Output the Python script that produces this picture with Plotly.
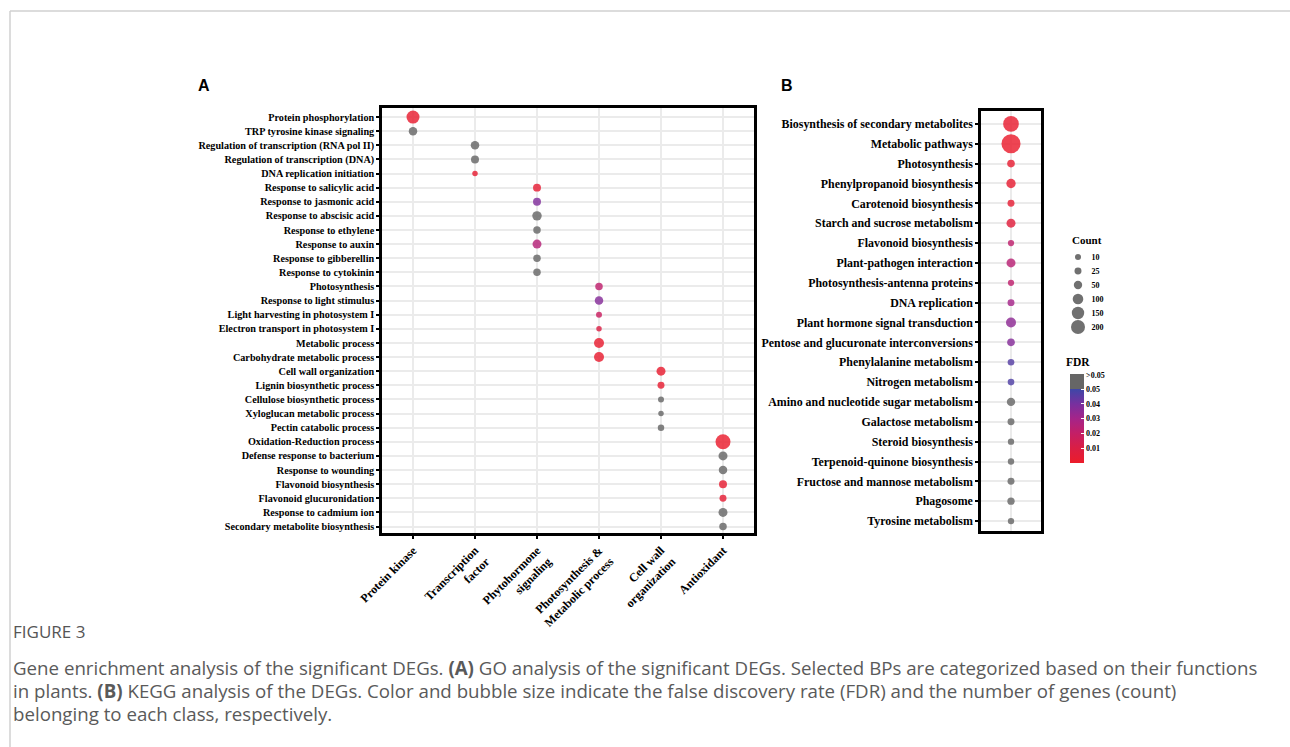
import math
import plotly.graph_objects as go

# ---------------- data ----------------
A_categories = ["Protein kinase", "Transcription<br>factor", "Phytohormone<br>signaling",
                "Photosynthesis &<br>Metabolic process", "Cell wall<br>organization", "Antioxidant"]

A_terms = [
    "Protein phosphorylation", "TRP tyrosine kinase signaling",
    "Regulation of transcription (RNA pol II)", "Regulation of transcription (DNA)", "DNA replication initiation",
    "Response to salicylic acid", "Response to jasmonic acid", "Response to abscisic acid",
    "Response to ethylene", "Response to auxin", "Response to gibberellin", "Response to cytokinin",
    "Photosynthesis", "Response to light stimulus", "Light harvesting in photosystem I",
    "Electron transport in photosystem I", "Metabolic process", "Carbohydrate metabolic process",
    "Cell wall organization", "Lignin biosynthetic process", "Cellulose biosynthetic process",
    "Xyloglucan metabolic process", "Pectin catabolic process",
    "Oxidation-Reduction process", "Defense response to bacterium", "Response to wounding",
    "Flavonoid biosynthesis", "Flavonoid glucuronidation", "Response to cadmium ion",
    "Secondary metabolite biosynthesis",
]
A_group_index = [0, 0, 1, 1, 1, 2, 2, 2, 2, 2, 2, 2, 3, 3, 3, 3, 3, 3, 4, 4, 4, 4, 4, 5, 5, 5, 5, 5, 5, 5]

NS = 0.06  # FDR > 0.05 (not significant, drawn grey)
A_count = [168, 53, 53, 43, 3, 43, 43, 74, 34, 63, 34, 34, 34, 53, 10, 3, 86, 86,
           63, 25, 10, 3, 17, 234, 63, 53, 43, 25, 63, 34]
A_fdr = [0.002, NS, NS, NS, 0.003, 0.004, 0.038, NS, NS, 0.025, NS, NS,
         0.022, 0.037, 0.018, 0.010, 0.002, 0.002, 0.002, 0.003, NS, NS, NS,
         0.001, NS, NS, 0.003, 0.004, NS, NS]

B_terms = [
    "Biosynthesis of secondary metabolites", "Metabolic pathways", "Photosynthesis",
    "Phenylpropanoid biosynthesis", "Carotenoid biosynthesis", "Starch and sucrose metabolism",
    "Flavonoid biosynthesis", "Plant-pathogen interaction", "Photosynthesis-antenna proteins",
    "DNA replication", "Plant hormone signal transduction", "Pentose and glucuronate interconversions",
    "Phenylalanine metabolism", "Nitrogen metabolism", "Amino and nucleotide sugar metabolism",
    "Galactose metabolism", "Steroid biosynthesis", "Terpenoid-quinone biosynthesis",
    "Fructose and mannose metabolism", "Phagosome", "Tyrosine metabolism",
]
B_count = [260, 400, 37, 70, 25, 63, 14, 63, 14, 25, 86, 37, 20, 20, 50, 25, 15, 15, 25, 30, 15]
B_fdr = [0.002, 0.001, 0.003, 0.003, 0.004, 0.006, 0.022, 0.024, 0.022, 0.030, 0.035, 0.037,
         0.046, 0.047, NS, NS, NS, NS, NS, NS, NS]

legend_counts = [10, 25, 50, 100, 150, 200]
fdr_ticks = [0.01, 0.02, 0.03, 0.04, 0.05]
fdr_tick_labels = ["0.01", "0.02", "0.03", "0.04", "0.05"]

caption_lines = [
    "Gene enrichment analysis of the significant DEGs. <b>(A)</b> GO analysis of the significant DEGs. "
    "Selected BPs are categorized based on their functions",
    "in plants. <b>(B)</b> KEGG analysis of the DEGs. Color and bubble size indicate the false discovery "
    "rate (FDR) and the number of genes (count)",
    "belonging to each class, respectively.",
]

# ---------------- styling helpers ----------------
W, H = 1290, 747
def px(x): return x / W
def py(y): return 1 - y / H

def dot_size(c):
    return math.sqrt(27.6 + 0.842 * c)

CMAX = 0.0602
cut = 0.05 / CMAX
colorscale = [
    [0.0, "#EC1C2A"],
    [0.01 / CMAX, "#DA1E44"],
    [0.02 / CMAX, "#C41F66"],
    [0.03 / CMAX, "#A52489"],
    [0.04 / CMAX, "#77309F"],
    [cut, "#3E47A7"],
    [cut, "#666666"],
    [1.0, "#666666"],
]

SERIF = "Liberation Serif"
GRID = "#EBEBEB"

fig = go.Figure()

fig.add_trace(go.Scatter(
    x=[A_categories[g] for g in A_group_index], y=A_terms, mode="markers",
    marker=dict(size=[dot_size(c) for c in A_count], color=A_fdr, coloraxis="coloraxis",
                opacity=0.82, line=dict(width=0)),
    xaxis="x", yaxis="y", showlegend=False, hoverinfo="x+y",
))

fig.add_trace(go.Scatter(
    x=["KEGG"] * len(B_terms), y=B_terms, mode="markers",
    marker=dict(size=[dot_size(c) for c in B_count], color=B_fdr, coloraxis="coloraxis",
                opacity=0.82, line=dict(width=0)),
    xaxis="x2", yaxis="y2", showlegend=False, hoverinfo="y",
))

# size legend
fig.add_trace(go.Scatter(
    x=[0.5] * len(legend_counts), y=[str(c) for c in legend_counts], mode="markers",
    marker=dict(size=[dot_size(c) for c in legend_counts], color="#333333", line=dict(width=0)),
    xaxis="x3", yaxis="y3", showlegend=False, hoverinfo="skip",
))

axis_common = dict(showgrid=True, gridcolor=GRID, gridwidth=2, zeroline=False,
                   showline=True, mirror=True, linecolor="black", linewidth=2.5,
                   ticks="outside", ticklen=3, tickwidth=1.5, tickcolor="black",
                   automargin=False)

fig.update_layout(
    template="none",
    width=W, height=H, autosize=False,
    margin=dict(l=0, r=0, t=0, b=0, pad=0, autoexpand=False),
    paper_bgcolor="white", plot_bgcolor="white", showlegend=False,
    xaxis=dict(domain=[px(382), px(754)], type="category", categoryarray=A_categories,
               categoryorder="array", range=[-0.5, 5.5], tickangle=-45,
               tickfont=dict(family=SERIF, size=12, color="black", weight="bold"),
               anchor="y", **axis_common),
    yaxis=dict(domain=[py(533), py(108)], type="category", categoryarray=A_terms,
               categoryorder="array", range=[29.46, -0.64],
               tickfont=dict(family=SERIF, size=10.2, color="black", weight="bold"),
               anchor="x", **axis_common),
    xaxis2=dict(domain=[px(981), px(1041)], type="category", range=[-0.5, 0.5],
                showticklabels=False, anchor="y2",
                **{**axis_common, "ticks": ""}),
    yaxis2=dict(domain=[py(531), py(111)], type="category", categoryarray=B_terms,
                categoryorder="array", range=[20.5, -0.65],
                tickfont=dict(family=SERIF, size=11.9, color="black", weight="bold"),
                anchor="x2", **axis_common),
    xaxis3=dict(domain=[px(1071), px(1085)], range=[0, 1], visible=False, anchor="y3",
                automargin=False),
    yaxis3=dict(domain=[py(334), py(250)], type="category",
                categoryarray=[str(c) for c in legend_counts], categoryorder="array",
                range=[5.5, -0.5], side="right", anchor="x3", showgrid=False, showline=False,
                zeroline=False, ticks="outside", ticklen=4, tickcolor="rgba(0,0,0,0)",
                automargin=False,
                tickfont=dict(family=SERIF, size=8, color="black", weight="bold")),
    coloraxis=dict(
        cmin=0, cmax=CMAX, colorscale=colorscale,
        colorbar=dict(
            x=px(1070), xanchor="left", y=py(418.5), yanchor="middle",
            lenmode="pixels", len=89, thickness=14, xpad=0, ypad=0,
            outlinewidth=0, tickvals=fdr_ticks + [0.0597], ticktext=fdr_tick_labels + [">0.05"],
            ticks="inside", ticklen=3, tickcolor="white", tickwidth=1,
            tickfont=dict(family=SERIF, size=8, color="black", weight="bold"),
            title=dict(text=""),
        ),
    ),
)

def note(text, x, y, size, family, color="black", xanchor="center"):
    return dict(text=text, x=px(x), y=py(y), xref="paper", yref="paper", showarrow=False,
                xanchor=xanchor, yanchor="middle",
                font=dict(family=family, size=size, color=color))

ann = [
    note("<b>A</b>", 204, 86, 16, "Liberation Sans"),
    note("<b>B</b>", 787, 86, 16, "Liberation Sans"),
    note("<b>Count</b>", 1087, 240, 11, SERIF),
    note("<b>FDR</b>", 1078, 362, 11.5, SERIF),
    note("FIGURE 3", 11, 631, 17, "Open Sans", "#555555", "left"),
]
for i, line in enumerate(caption_lines):
    ann.append(note(line, 11, 667 + 23 * i, 18.7, "Open Sans", "#5a5a5a", "left"))
fig.update_layout(annotations=ann)

fig.update_layout(shapes=[
    dict(type="line", xref="paper", yref="paper", x0=px(10), x1=1, y0=py(11), y1=py(11),
         line=dict(color="#D0D0D0", width=1.5)),
    dict(type="line", xref="paper", yref="paper", x0=px(10), x1=px(10), y0=py(11), y1=0,
         line=dict(color="#D0D0D0", width=1.5)),
])

fig.write_html("out.html", config={"displayModeBar": False},
               post_script="document.body.style.margin='0px';document.body.style.overflow='hidden';")
